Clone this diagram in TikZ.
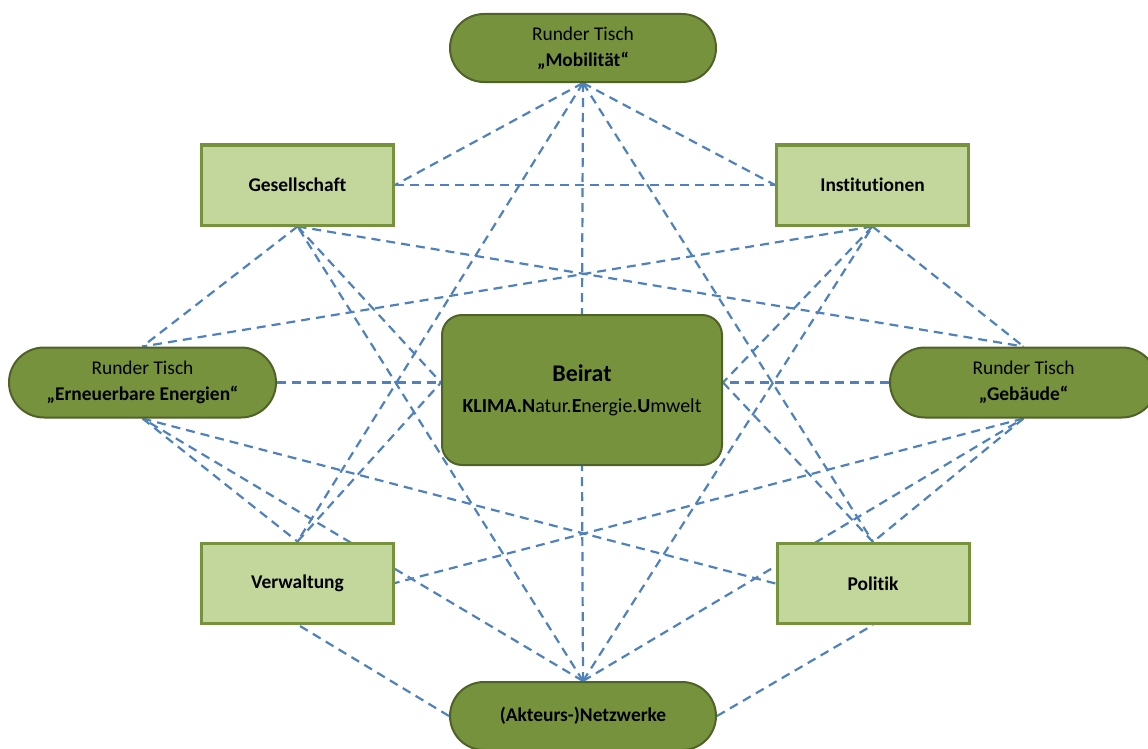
\documentclass[tikz,border=0pt]{standalone}
\usepackage{fontspec}
\setmainfont{Carlito}[Ligatures=NoCommon]
\usetikzlibrary{backgrounds}

\definecolor{darkolive}{HTML}{76923C}
\definecolor{oliveedge}{HTML}{4F6228}
\definecolor{paleolive}{HTML}{C3D69B}
\definecolor{linkblue}{HTML}{4F81BD}

\tikzset{
  roundtable/.style={draw=oliveedge, line width=2bp, fill=darkolive,
    rounded corners=34bp, minimum width=266bp, minimum height=68bp,
    inner sep=0pt, align=center, text=black,
    font=\fontsize{19.5}{26}\selectfont},
  sector/.style={draw=darkolive, line width=3bp, fill=paleolive,
    minimum width=192bp, minimum height=80bp, inner sep=0pt, text=black,
    font=\fontsize{19.5}{23}\selectfont\bfseries},
  council/.style={draw=oliveedge, line width=2bp, fill=darkolive,
    rounded corners=20bp, minimum width=280bp, minimum height=150bp,
    inner sep=0pt, align=center, text=black,
    font=\fontsize{20}{31}\selectfont},
  link/.style={draw=linkblue, line width=2.2bp, dash pattern=on 9bp off 6bp},
}

\begin{document}
\begin{tikzpicture}[x=1bp,y=-1bp]
\useasboundingbox (0,0) rectangle (1148,749);

% round tables and network
\node[roundtable] (mob) at (583,48) {Runder Tisch\\\textbf{„Mobilität“}};
\node[roundtable, minimum width=267bp, minimum height=70bp, rounded corners=35bp]
  (ee) at (142.5,382.5) {Runder Tisch\\\textbf{„Erneuerbare Energien“}};
\node[roundtable, minimum width=267bp, minimum height=70bp, rounded corners=35bp]
  (geb) at (1023.5,382.5) {Runder Tisch\\\textbf{„Gebäude“}};
\node[roundtable] (netz) at (583,716) {\textbf{(Akteurs-)Netzwerke}};

% sectors
\node[sector] (ges) at (297.5,185) {Gesellschaft};
\node[sector] (inst) at (872.5,185) {Institutionen};
\node[sector] (verw) at (297.5,583) {Verwaltung};
\node[sector] (pol) at (873,583.5) {Politik};

% advisory council
\node[council] (beirat) at (582,390)
  {{\fontsize{24}{28}\selectfont\bfseries Beirat}\\
   \textbf{KLIMA.N}atur.\textbf{E}nergie.\textbf{U}mwelt};

% side docking points of the council, level with the side round tables
\coordinate (bl) at (ee.east -| beirat.west);
\coordinate (br) at (geb.west -| beirat.east);

\begin{pgfonlayer}{background}
  % top
  \draw[link] (ges.east) -- (inst.west);
  \draw[link] (mob.south) -- (ges.east);
  \draw[link] (mob.south) -- (inst.west);
  \draw[link] (mob.south) -- (beirat.north);
  \draw[link] (mob.south) -- (verw.north);
  \draw[link] (mob.south) -- (pol.north);
  % bottom
  \draw[link] (netz.north) -- (beirat.south);
  \draw[link] (netz.north) -- (ges.south);
  \draw[link] (netz.north) -- (inst.south);
  \draw[link] (netz.north) -- (ee.south);
  \draw[link] (netz.north) -- (geb.south);
  \draw[link] (netz.west) -- (verw.south);
  \draw[link] (netz.east) -- (pol.south);
  % upper sectors
  \draw[link] (ges.south) -- (ee.north);
  \draw[link] (ges.south) -- (geb.north);
  \draw[link] (ges.south) -- (bl);
  \draw[link] (inst.south) -- (geb.north);
  \draw[link] (inst.south) -- (ee.north);
  \draw[link] (inst.south) -- (br);
  % side round tables
  \draw[link] (ee.east) -- (bl);
  \draw[link] (geb.west) -- (br);
  \draw[link] (ee.south) -- (verw.north);
  \draw[link] (ee.south) -- (pol.west);
  \draw[link] (geb.south) -- (pol.north);
  \draw[link] (geb.south) -- (verw.east);
  % lower sectors
  \draw[link] (verw.north) -- (bl);
  \draw[link] (pol.north) -- (br);
\end{pgfonlayer}
\end{tikzpicture}
\end{document}
